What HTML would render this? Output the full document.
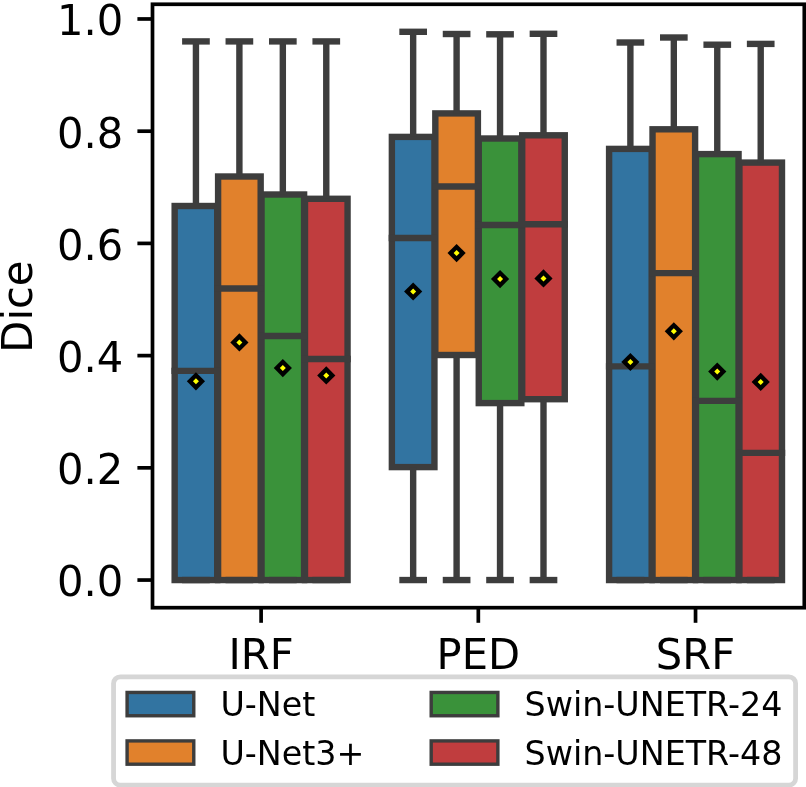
<!DOCTYPE html>
<html><head><meta charset="utf-8"><title>Dice boxplot</title>
<style>
html,body{margin:0;padding:0;background:#fff;}
body{width:806px;height:787px;overflow:hidden;}
svg{display:block;}
.tk{font-family:"DejaVu Sans","Liberation Sans",sans-serif;font-size:41.67px;fill:#000;}
.lg{font-family:"DejaVu Sans","Liberation Sans",sans-serif;font-size:33.33px;fill:#000;}
.w{stroke:#3d3d3d;stroke-width:6.4;stroke-linecap:butt;}
.c{stroke:#3d3d3d;stroke-width:6.4;stroke-linecap:square;}
</style></head>
<body>
<svg width="806" height="787" viewBox="0 0 806 787">
<rect width="806" height="787" fill="#fff"/>
<rect x="174.66" y="206" width="42.57" height="374.05" fill="#3274a1" stroke="#3d3d3d" stroke-width="6.4" stroke-linejoin="miter"/>
<rect x="218.1" y="176.5" width="42.57" height="403.55" fill="#e1812c" stroke="#3d3d3d" stroke-width="6.4" stroke-linejoin="miter"/>
<rect x="261.54" y="194.5" width="42.57" height="385.55" fill="#3a923a" stroke="#3d3d3d" stroke-width="6.4" stroke-linejoin="miter"/>
<rect x="304.99" y="198.8" width="42.57" height="381.25" fill="#c03d3e" stroke="#3d3d3d" stroke-width="6.4" stroke-linejoin="miter"/>
<rect x="391.87" y="136.9" width="42.57" height="330.2" fill="#3274a1" stroke="#3d3d3d" stroke-width="6.4" stroke-linejoin="miter"/>
<rect x="435.32" y="113.4" width="42.57" height="241.6" fill="#e1812c" stroke="#3d3d3d" stroke-width="6.4" stroke-linejoin="miter"/>
<rect x="478.76" y="138.5" width="42.57" height="264.6" fill="#3a923a" stroke="#3d3d3d" stroke-width="6.4" stroke-linejoin="miter"/>
<rect x="522.2" y="135.3" width="42.57" height="263.9" fill="#c03d3e" stroke="#3d3d3d" stroke-width="6.4" stroke-linejoin="miter"/>
<rect x="609.09" y="148.9" width="42.57" height="431.15" fill="#3274a1" stroke="#3d3d3d" stroke-width="6.4" stroke-linejoin="miter"/>
<rect x="652.53" y="129.3" width="42.57" height="450.75" fill="#e1812c" stroke="#3d3d3d" stroke-width="6.4" stroke-linejoin="miter"/>
<rect x="695.98" y="154.1" width="42.57" height="425.95" fill="#3a923a" stroke="#3d3d3d" stroke-width="6.4" stroke-linejoin="miter"/>
<rect x="739.42" y="162.6" width="42.57" height="417.45" fill="#c03d3e" stroke="#3d3d3d" stroke-width="6.4" stroke-linejoin="miter"/>
<line x1="195.94" y1="206" x2="195.94" y2="41.4" class="w"/>
<line x1="185.3" y1="41.4" x2="206.59" y2="41.4" class="c"/>
<line x1="185.3" y1="580.05" x2="206.59" y2="580.05" class="c"/>
<line x1="239.39" y1="176.5" x2="239.39" y2="41.4" class="w"/>
<line x1="228.74" y1="41.4" x2="250.03" y2="41.4" class="c"/>
<line x1="228.74" y1="580.05" x2="250.03" y2="580.05" class="c"/>
<line x1="282.83" y1="194.5" x2="282.83" y2="41.4" class="w"/>
<line x1="272.19" y1="41.4" x2="293.47" y2="41.4" class="c"/>
<line x1="272.19" y1="580.05" x2="293.47" y2="580.05" class="c"/>
<line x1="326.27" y1="198.8" x2="326.27" y2="41.4" class="w"/>
<line x1="315.63" y1="41.4" x2="336.92" y2="41.4" class="c"/>
<line x1="315.63" y1="580.05" x2="336.92" y2="580.05" class="c"/>
<line x1="413.16" y1="136.9" x2="413.16" y2="31.8" class="w"/>
<line x1="413.16" y1="467.1" x2="413.16" y2="580.05" class="w"/>
<line x1="402.52" y1="31.8" x2="423.8" y2="31.8" class="c"/>
<line x1="402.52" y1="580.05" x2="423.8" y2="580.05" class="c"/>
<line x1="456.6" y1="113.4" x2="456.6" y2="34" class="w"/>
<line x1="456.6" y1="355" x2="456.6" y2="580.05" class="w"/>
<line x1="445.96" y1="34" x2="467.25" y2="34" class="c"/>
<line x1="445.96" y1="580.05" x2="467.25" y2="580.05" class="c"/>
<line x1="500.05" y1="138.5" x2="500.05" y2="34.3" class="w"/>
<line x1="500.05" y1="403.1" x2="500.05" y2="580.05" class="w"/>
<line x1="489.4" y1="34.3" x2="510.69" y2="34.3" class="c"/>
<line x1="489.4" y1="580.05" x2="510.69" y2="580.05" class="c"/>
<line x1="543.49" y1="135.3" x2="543.49" y2="33.8" class="w"/>
<line x1="543.49" y1="399.2" x2="543.49" y2="580.05" class="w"/>
<line x1="532.85" y1="33.8" x2="554.13" y2="33.8" class="c"/>
<line x1="532.85" y1="580.05" x2="554.13" y2="580.05" class="c"/>
<line x1="630.38" y1="148.9" x2="630.38" y2="42.5" class="w"/>
<line x1="619.73" y1="42.5" x2="641.02" y2="42.5" class="c"/>
<line x1="619.73" y1="580.05" x2="641.02" y2="580.05" class="c"/>
<line x1="673.82" y1="129.3" x2="673.82" y2="37.5" class="w"/>
<line x1="663.18" y1="37.5" x2="684.46" y2="37.5" class="c"/>
<line x1="663.18" y1="580.05" x2="684.46" y2="580.05" class="c"/>
<line x1="717.26" y1="154.1" x2="717.26" y2="44.7" class="w"/>
<line x1="706.62" y1="44.7" x2="727.91" y2="44.7" class="c"/>
<line x1="706.62" y1="580.05" x2="727.91" y2="580.05" class="c"/>
<line x1="760.71" y1="162.6" x2="760.71" y2="43.9" class="w"/>
<line x1="750.06" y1="43.9" x2="771.35" y2="43.9" class="c"/>
<line x1="750.06" y1="580.05" x2="771.35" y2="580.05" class="c"/>
<line x1="174.66" y1="370.9" x2="217.23" y2="370.9" class="c"/>
<line x1="218.1" y1="288.5" x2="260.67" y2="288.5" class="c"/>
<line x1="261.54" y1="336" x2="304.12" y2="336" class="c"/>
<line x1="304.99" y1="359" x2="347.56" y2="359" class="c"/>
<line x1="391.87" y1="238" x2="434.45" y2="238" class="c"/>
<line x1="435.32" y1="186.55" x2="477.89" y2="186.55" class="c"/>
<line x1="478.76" y1="225" x2="521.33" y2="225" class="c"/>
<line x1="522.2" y1="224.3" x2="564.78" y2="224.3" class="c"/>
<line x1="609.09" y1="366.4" x2="651.66" y2="366.4" class="c"/>
<line x1="652.53" y1="273.1" x2="695.11" y2="273.1" class="c"/>
<line x1="695.98" y1="400.9" x2="738.55" y2="400.9" class="c"/>
<line x1="739.42" y1="452.9" x2="781.99" y2="452.9" class="c"/>
<path d="M195.94 372.2L205.04 381.3L195.94 390.4L186.84 381.3Z" fill="#000"/>
<path d="M195.94 378.3L198.94 381.3L195.94 384.3L192.94 381.3Z" fill="#ffff00"/>
<path d="M239.39 333.3L248.49 342.4L239.39 351.5L230.29 342.4Z" fill="#000"/>
<path d="M239.39 339.4L242.39 342.4L239.39 345.4L236.39 342.4Z" fill="#ffff00"/>
<path d="M282.83 359L291.93 368.1L282.83 377.2L273.73 368.1Z" fill="#000"/>
<path d="M282.83 365.1L285.83 368.1L282.83 371.1L279.83 368.1Z" fill="#ffff00"/>
<path d="M326.27 366.3L335.37 375.4L326.27 384.5L317.17 375.4Z" fill="#000"/>
<path d="M326.27 372.4L329.27 375.4L326.27 378.4L323.27 375.4Z" fill="#ffff00"/>
<path d="M413.16 282.4L422.26 291.5L413.16 300.6L404.06 291.5Z" fill="#000"/>
<path d="M413.16 288.5L416.16 291.5L413.16 294.5L410.16 291.5Z" fill="#ffff00"/>
<path d="M456.6 243.95L465.7 253.05L456.6 262.15L447.5 253.05Z" fill="#000"/>
<path d="M456.6 250.05L459.6 253.05L456.6 256.05L453.6 253.05Z" fill="#ffff00"/>
<path d="M500.05 270L509.15 279.1L500.05 288.2L490.95 279.1Z" fill="#000"/>
<path d="M500.05 276.1L503.05 279.1L500.05 282.1L497.05 279.1Z" fill="#ffff00"/>
<path d="M543.49 269.3L552.59 278.4L543.49 287.5L534.39 278.4Z" fill="#000"/>
<path d="M543.49 275.4L546.49 278.4L543.49 281.4L540.49 278.4Z" fill="#ffff00"/>
<path d="M630.38 352.9L639.48 362L630.38 371.1L621.28 362Z" fill="#000"/>
<path d="M630.38 359L633.38 362L630.38 365L627.38 362Z" fill="#ffff00"/>
<path d="M673.82 322.2L682.92 331.3L673.82 340.4L664.72 331.3Z" fill="#000"/>
<path d="M673.82 328.3L676.82 331.3L673.82 334.3L670.82 331.3Z" fill="#ffff00"/>
<path d="M717.26 362.5L726.36 371.6L717.26 380.7L708.16 371.6Z" fill="#000"/>
<path d="M717.26 368.6L720.26 371.6L717.26 374.6L714.26 371.6Z" fill="#ffff00"/>
<path d="M760.71 372.8L769.81 381.9L760.71 391L751.61 381.9Z" fill="#000"/>
<path d="M760.71 378.9L763.71 381.9L760.71 384.9L757.71 381.9Z" fill="#ffff00"/>
<rect x="152.5" y="4.27" width="651.8" height="603.43" fill="none" stroke="#000" stroke-width="3.7" stroke-linejoin="miter" stroke-linecap="square"/>
<line x1="137.4" y1="580.05" x2="152.5" y2="580.05" stroke="#000" stroke-width="3.7"/>
<text transform="translate(123.3 596.05) scale(1 1.015)" class="tk" text-anchor="end">0.0</text>
<line x1="137.4" y1="467.83" x2="152.5" y2="467.83" stroke="#000" stroke-width="3.7"/>
<text transform="translate(123.3 484.13) scale(1 1.015)" class="tk" text-anchor="end">0.2</text>
<line x1="137.4" y1="355.62" x2="152.5" y2="355.62" stroke="#000" stroke-width="3.7"/>
<text transform="translate(123.3 371.62) scale(1 1.015)" class="tk" text-anchor="end">0.4</text>
<line x1="137.4" y1="243.4" x2="152.5" y2="243.4" stroke="#000" stroke-width="3.7"/>
<text transform="translate(123.3 260) scale(1 1.015)" class="tk" text-anchor="end">0.6</text>
<line x1="137.4" y1="131.19" x2="152.5" y2="131.19" stroke="#000" stroke-width="3.7"/>
<text transform="translate(123.3 147.79) scale(1 1.015)" class="tk" text-anchor="end">0.8</text>
<line x1="137.4" y1="18.97" x2="152.5" y2="18.97" stroke="#000" stroke-width="3.7"/>
<text transform="translate(123.3 34.97) scale(1 1.015)" class="tk" text-anchor="end">1.0</text>
<line x1="261.11" y1="607.7" x2="261.11" y2="622.8" stroke="#000" stroke-width="3.7"/>
<text transform="translate(261.11 668.6) scale(1 1.015)" class="tk" text-anchor="middle">IRF</text>
<line x1="478.32" y1="607.7" x2="478.32" y2="622.8" stroke="#000" stroke-width="3.7"/>
<text transform="translate(478.32 668.6) scale(1 1.015)" class="tk" text-anchor="middle">PED</text>
<line x1="695.54" y1="607.7" x2="695.54" y2="622.8" stroke="#000" stroke-width="3.7"/>
<text transform="translate(695.54 668.6) scale(1 1.015)" class="tk" text-anchor="middle">SRF</text>
<text transform="translate(32 306.6) rotate(-90) scale(1 1.015)" class="tk" text-anchor="middle">Dice</text>
<rect x="113.55" y="676.8" width="682.05" height="108.3" rx="6.67" ry="6.67" fill="#fff" stroke="#d6d6d6" stroke-width="4.8"/>
<rect x="127.1" y="692.45" width="66.67" height="23.3" fill="#3274a1" stroke="#3d3d3d" stroke-width="3.4"/>
<text x="220.44" y="715.7" class="lg">U-Net</text>
<rect x="127.1" y="740.9" width="66.67" height="23.3" fill="#e1812c" stroke="#3d3d3d" stroke-width="3.4"/>
<text x="220.44" y="764.9" class="lg">U-Net3+</text>
<rect x="431.2" y="692.45" width="66.67" height="23.3" fill="#3a923a" stroke="#3d3d3d" stroke-width="3.4"/>
<text x="524.54" y="715.7" class="lg">Swin-UNETR-24</text>
<rect x="431.2" y="740.9" width="66.67" height="23.3" fill="#c03d3e" stroke="#3d3d3d" stroke-width="3.4"/>
<text x="524.54" y="764.9" class="lg">Swin-UNETR-48</text>
</svg>
</body></html>
